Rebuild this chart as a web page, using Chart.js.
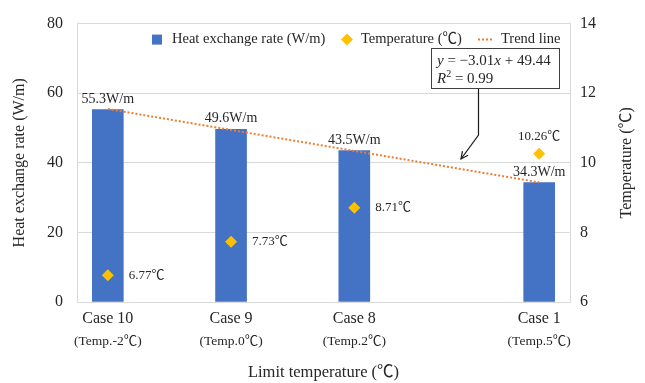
<!DOCTYPE html>
<html>
<head>
<meta charset="UTF-8">
<script src="https://cdn.jsdelivr.net/npm/chart.js"></script>
<style>
  body { margin: 0; background: #fff; }
  canvas { display: block; }
</style>
</head>
<body>
<canvas id="c" width="645" height="383"></canvas>
<script>
// data
const caseNames = ['Case 10', 'Case 9', 'Case 8', 'Case 1'];
const limitTemps = [-2, 0, 2, 5];
const caseSubLabels = ['(Temp.-2\u2103)', '(Temp.0\u2103)', '(Temp.2\u2103)', '(Temp.5\u2103)'];
const heatRate = [55.3, 49.6, 43.5, 34.3];
const temperature = [6.77, 7.73, 8.71, 10.26];
const trendSlope = -3.01;
const trendIntercept = 49.44;
const trendR2 = 0.99;
const trendX = [-2, 5];
const leftTicks = [0, 20, 40, 60, 80];
const rightTicks = [6, 8, 10, 12, 14];

const SERIF = '"Liberation Serif", "Times New Roman", "Noto Sans CJK SC", serif';
const TXT = '#262626';
const GRID = '#D9D9D9';
const BLUE = '#4472C4';
const GOLD = '#FFC000';
const ORANGE = '#ED7D31';

function f(size, style) { return (style || '') + ' ' + size + 'px ' + SERIF; }

const overlay = {
  id: 'overlay',
  afterDatasetsDraw(chart) {
    const ctx = chart.ctx;
    const area = chart.chartArea;
    const xs = chart.scales.x;
    ctx.save();
    ctx.fillStyle = TXT;

    // bar value labels
    const bars = chart.getDatasetMeta(0).data;
    ctx.font = f(14);
    ctx.textAlign = 'center';
    ctx.textBaseline = 'alphabetic';
    bars.forEach((b, i) => {
      ctx.fillText(heatRate[i].toFixed(1) + 'W/m', b.x, b.y - 7);
    });

    // temperature labels
    const pts = chart.getDatasetMeta(1).data;
    ctx.font = f(13);
    pts.forEach((p, i) => {
      const s = temperature[i].toFixed(2) + '\u2103';
      if (i === pts.length - 1) {
        ctx.textAlign = 'center';
        ctx.textBaseline = 'middle';
        ctx.fillText(s, p.x, p.y - 17);
      } else {
        ctx.textAlign = 'left';
        ctx.textBaseline = 'middle';
        ctx.fillText(s, p.x + 21, p.y);
      }
    });

    // x category labels
    limitTemps.forEach((t, i) => {
      const x = xs.getPixelForValue(t);
      ctx.textAlign = 'center';
      ctx.textBaseline = 'alphabetic';
      ctx.font = f(16);
      ctx.fillText(caseNames[i], x, 323);
      ctx.font = f(13.5);
      ctx.textBaseline = 'middle';
      ctx.fillText(caseSubLabels[i], x, 341);
    });

    // axis titles
    ctx.font = f(16.5);
    ctx.textAlign = 'center';
    ctx.textBaseline = 'middle';
    ctx.fillText('Limit temperature (\u2103)', (area.left + area.right) / 2, 373);
    const midY = (area.top + area.bottom) / 2;
    ctx.save();
    ctx.translate(20, midY);
    ctx.rotate(-Math.PI / 2);
    ctx.font = f(16);
    ctx.fillText('Heat exchange rate (W/m)', 0, 0);
    ctx.restore();
    ctx.save();
    ctx.translate(627, midY);
    ctx.rotate(-Math.PI / 2);
    ctx.font = f(16);
    ctx.fillText('Temperature (\u2103)', 0, 0);
    ctx.restore();

    // legend
    const ly = area.top + 16;
    ctx.fillStyle = BLUE;
    ctx.fillRect(152, ly - 5, 10, 10);
    ctx.fillStyle = GOLD;
    ctx.beginPath();
    ctx.moveTo(347, ly - 6); ctx.lineTo(353, ly); ctx.lineTo(347, ly + 6); ctx.lineTo(341, ly);
    ctx.closePath(); ctx.fill();
    ctx.strokeStyle = ORANGE;
    ctx.lineWidth = 2;
    ctx.setLineDash([2, 2]);
    ctx.beginPath(); ctx.moveTo(478, ly); ctx.lineTo(494, ly); ctx.stroke();
    ctx.setLineDash([]);
    ctx.fillStyle = TXT;
    ctx.font = f(14.5);
    ctx.textAlign = 'left';
    ctx.textBaseline = 'middle';
    ctx.fillText('Heat exchange rate (W/m)', 172, ly);
    ctx.fillText('Temperature (\u2103)', 361, ly);
    ctx.fillText('Trend line', 501, ly);

    // equation box with arrow
    const bx = 431, by = 48, bw = 128, bh = 40;
    ctx.fillStyle = '#fff';
    ctx.fillRect(bx, by, bw, bh);
    ctx.strokeStyle = '#404040';
    ctx.lineWidth = 1;
    ctx.strokeRect(bx + 0.5, by + 0.5, bw, bh);
    ctx.fillStyle = TXT;
    let x = 437;
    const seg = (s, style, y) => { ctx.font = f(15, style); ctx.fillText(s, x, y); x += ctx.measureText(s).width; };
    const sign = trendSlope < 0 ? '\u2212' : '';
    seg('y', 'italic', 61); seg(' = ' + sign + Math.abs(trendSlope).toFixed(2), '', 61);
    seg('x', 'italic', 61); seg(' + ' + trendIntercept.toFixed(2), '', 61);
    x = 437;
    seg('R', 'italic', 79);
    ctx.font = f(10); ctx.fillText('2', x, 74); x += ctx.measureText('2').width;
    seg(' = ' + trendR2.toFixed(2), '', 79);

    ctx.strokeStyle = '#1a1a1a';
    ctx.lineWidth = 1.2;
    ctx.beginPath();
    ctx.moveTo(478.5, by + bh + 1);
    ctx.lineTo(478.5, 135);
    ctx.lineTo(461, 159);
    ctx.stroke();
    // arrow head
    const ang = Math.atan2(159 - 135, 461 - 478.5);
    ctx.beginPath();
    ctx.moveTo(461 - 8 * Math.cos(ang - 0.45), 159 - 8 * Math.sin(ang - 0.45));
    ctx.lineTo(461, 159);
    ctx.lineTo(461 - 8 * Math.cos(ang + 0.45), 159 - 8 * Math.sin(ang + 0.45));
    ctx.stroke();

    ctx.restore();
  }
};

new Chart(document.getElementById('c'), {
  data: {
    datasets: [
      {
        type: 'bar',
        label: 'Heat exchange rate (W/m)',
        data: limitTemps.map((t, i) => ({ x: t, y: heatRate[i] })),
        backgroundColor: BLUE,
        barThickness: 31,
        yAxisID: 'y',
        order: 3
      },
      {
        type: 'scatter',
        label: 'Temperature (\u2103)',
        data: limitTemps.map((t, i) => ({ x: t, y: temperature[i] })),
        pointStyle: 'rectRot',
        pointRadius: 6,
        pointBackgroundColor: GOLD,
        pointBorderWidth: 0,
        yAxisID: 'y2',
        order: 1
      },
      {
        type: 'line',
        label: 'Trend line',
        data: trendX.map(t => ({ x: t, y: trendSlope * t + trendIntercept })),
        borderColor: ORANGE,
        borderWidth: 2,
        borderDash: [2, 2],
        pointRadius: 0,
        fill: false,
        yAxisID: 'y',
        order: 2
      }
    ]
  },
  options: {
    responsive: false,
    devicePixelRatio: 1,
    animation: false,
    layout: { padding: { top: 16, left: 0, right: 0, bottom: 0 } },
    plugins: { legend: { display: false }, tooltip: { enabled: false } },
    scales: {
      x: {
        type: 'linear',
        min: -2.5,
        max: 5.5,
        offset: false,
        grid: { display: false },
        border: { color: GRID },
        ticks: { display: false },
        afterFit(s) { s.height = 81; }
      },
      y: {
        position: 'left',
        min: leftTicks[0],
        max: leftTicks[leftTicks.length - 1],
        afterBuildTicks(s) { s.ticks = leftTicks.map(v => ({ value: v })); },
        grid: { color: GRID, drawTicks: false },
        border: { color: GRID },
        ticks: { padding: 14, color: TXT, font: { family: SERIF, size: 16 } },
        afterFit(s) { s.width = 77; }
      },
      y2: {
        position: 'right',
        min: rightTicks[0],
        max: rightTicks[rightTicks.length - 1],
        afterBuildTicks(s) { s.ticks = rightTicks.map(v => ({ value: v })); },
        grid: { display: false, drawTicks: false },
        border: { color: GRID },
        ticks: { padding: 10, color: TXT, font: { family: SERIF, size: 16 } },
        afterFit(s) { s.width = 75; }
      }
    }
  },
  plugins: [overlay]
});
</script>
</body>
</html>
